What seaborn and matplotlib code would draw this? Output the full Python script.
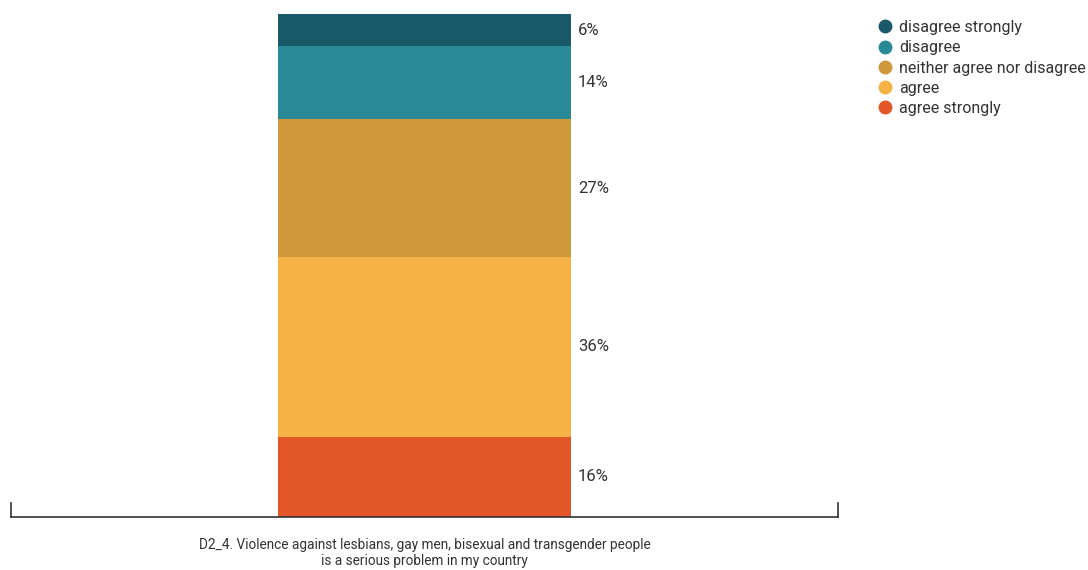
import matplotlib.pyplot as plt
import seaborn as sns
import pandas as pd
from matplotlib.lines import Line2D

# data (shares; labels show rounded values)
categories = ["agree strongly", "agree", "neither agree nor disagree", "disagree", "disagree strongly"]
values = [15.95, 35.7, 27.45, 14.45, 6.45]
colors = ["#e25628", "#f7b245", "#cf983b", "#2a8997", "#1a5a68"]
question = "D2_4. Violence against lesbians, gay men, bisexual and transgender people\nis a serious problem in my country"

df = pd.DataFrame({"question": ["q"] * len(values), "answer": categories, "value": values})
df["bottom"] = df["value"].cumsum() - df["value"]

sns.set_style("white")
plt.rcParams["font.family"] = ["Roboto", "DejaVu Sans"]

fig = plt.figure(figsize=(10.88, 5.70), dpi=100)
ax = fig.add_axes([11 / 1088, 53 / 570, 827 / 1088, 503 / 570])

# stacked segments, bottom to top
for i, row in df.iterrows():
    sns.barplot(
        data=row.to_frame().T,
        x="question",
        y="value",
        bottom=row["bottom"],
        color=colors[i],
        width=0.3543,
        saturation=1,
        linewidth=0,
        ax=ax,
    )
    ax.text(
        0.1856,
        row["bottom"] + row["value"] / 2,
        f"{row['value']:.0f}%",
        ha="left",
        va="center",
        fontsize=12,
        color="#333333",
    )

ax.set_xlim(-0.5, 0.5)
ax.set_ylim(0, 100)
ax.set_xticks([])
ax.set_yticks([])
ax.set_xlabel("")
ax.set_ylabel("")

# axis look: bottom line with small end ticks
ax.spines["top"].set_visible(False)
for side in ["left", "right", "bottom"]:
    ax.spines[side].set_color("#333333")
    ax.spines[side].set_linewidth(1.2)
ax.spines["left"].set_bounds(0, 2.8)
ax.spines["right"].set_bounds(0, 2.8)

fig.text(424.5 / 1088, 1 - 553 / 570, question, ha="center", va="center",
         fontsize=9.8, color="#333333", linespacing=1.2)

# legend, top-down order
handles = [
    Line2D([], [], marker="o", linestyle="", markersize=9, color=c)
    for c in colors[::-1]
]
fig.legend(
    handles,
    categories[::-1],
    loc="upper left",
    bbox_to_anchor=(867 / 1088, 1 - 12 / 570),
    frameon=False,
    fontsize=11.5,
    handletextpad=0.3,
    labelspacing=0.33,
    borderpad=0,
    handlelength=1.2,
    labelcolor="#333333",
)

plt.savefig("out.png", dpi=100)
